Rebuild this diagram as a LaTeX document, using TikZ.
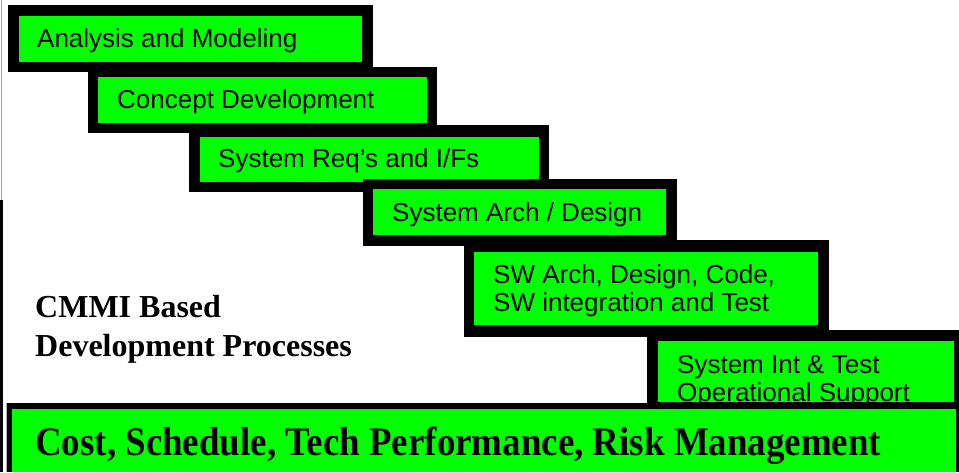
\documentclass[tikz,border=0pt]{standalone}
\usepackage{fontspec}
\setmainfont{Liberation Serif}
\newfontfamily\arialfont{Liberation Sans}
\definecolor{boxgreen}{RGB}{0,255,0}
\tikzset{
  outerbox/.style={fill=black},
  innerbox/.style={fill=boxgreen},
  lbl/.style={inner sep=0pt, anchor=base west, font=\arialfont\fontsize{26}{28}\selectfont},
  bigbold/.style={inner sep=0pt, anchor=base west, font=\bfseries\fontsize{32}{39}\selectfont},
}
\newcommand\greenstep[5]{%
  \fill[outerbox] (#1,#2) rectangle (#3,#4);
  \fill[innerbox] ({#1+#5},{#2+#5}) rectangle ({#3-#5},{#4-#5});
}
\begin{document}
\begin{tikzpicture}[x=1pt,y=-1pt]
\useasboundingbox (0,0) rectangle (959,472);
\fill[white] (0,0) rectangle (959,472);
% left edge
\draw[gray!70, line width=1pt] (1.5,0) -- (1.5,200);
\fill[black] (0,200) rectangle (3,472);

% box 1
\fill[outerbox] (8,5) rectangle (373,72);
\fill[innerbox] (19,16) rectangle (362,62);
\node[lbl] (am) at (37,47) {Analysis and Modeling};

% box 2
\fill[outerbox] (88,67) rectangle (437,133);
\fill[innerbox] (98,77) rectangle (427,123);
\node[lbl] (cd) at (117,108) {Concept Development};

% box 3
\fill[outerbox] (189,125) rectangle (549,192);
\fill[innerbox] (200,137) rectangle (539,182);
\node[lbl] (sr) at (218,167) {System Req’s and I/Fs};

% box 4
\fill[outerbox] (363,179) rectangle (677,246);
\fill[innerbox] (373,189) rectangle (666,235);
\node[lbl] (sa) at (392,221) {System Arch / Design};

% box 5
\fill[outerbox] (464,240) rectangle (829,337);
\fill[innerbox] (474,252) rectangle (818,325);
\node[lbl] (sw) at (493,283) {\begin{tabular}[t]{@{}l@{}}SW Arch, Design, Code,\\SW integration and Test\end{tabular}};

% box 6
\fill[outerbox] (647,330) rectangle (959,409);
\fill[innerbox] (658,341) rectangle (954,402);
\begin{scope}
\clip (658,341) rectangle (954,402);
\node[lbl] (si) at (677,373) {\begin{tabular}[t]{@{}l@{}}System Int \& Test\\Operational Support\end{tabular}};
\end{scope}

% bottom box
\draw[gray!60, line width=1pt] (6.5,403) -- (6.5,472);
\fill[outerbox] (7,403) rectangle (959,472);
\fill[innerbox] (12,409) rectangle (956,472);
\node[inner sep=0pt, anchor=base west] (cs) at (35,455) {\scalebox{0.912}[1]{\bfseries\fontsize{40.5}{44}\selectfont Cost, Schedule, Tech Performance, Risk Management}};

% CMMI label
\node[bigbold] (cmmi) at (35,317) {\begin{tabular}[t]{@{}l@{}}CMMI Based\\Development Processes\end{tabular}};
\end{tikzpicture}
\end{document}
